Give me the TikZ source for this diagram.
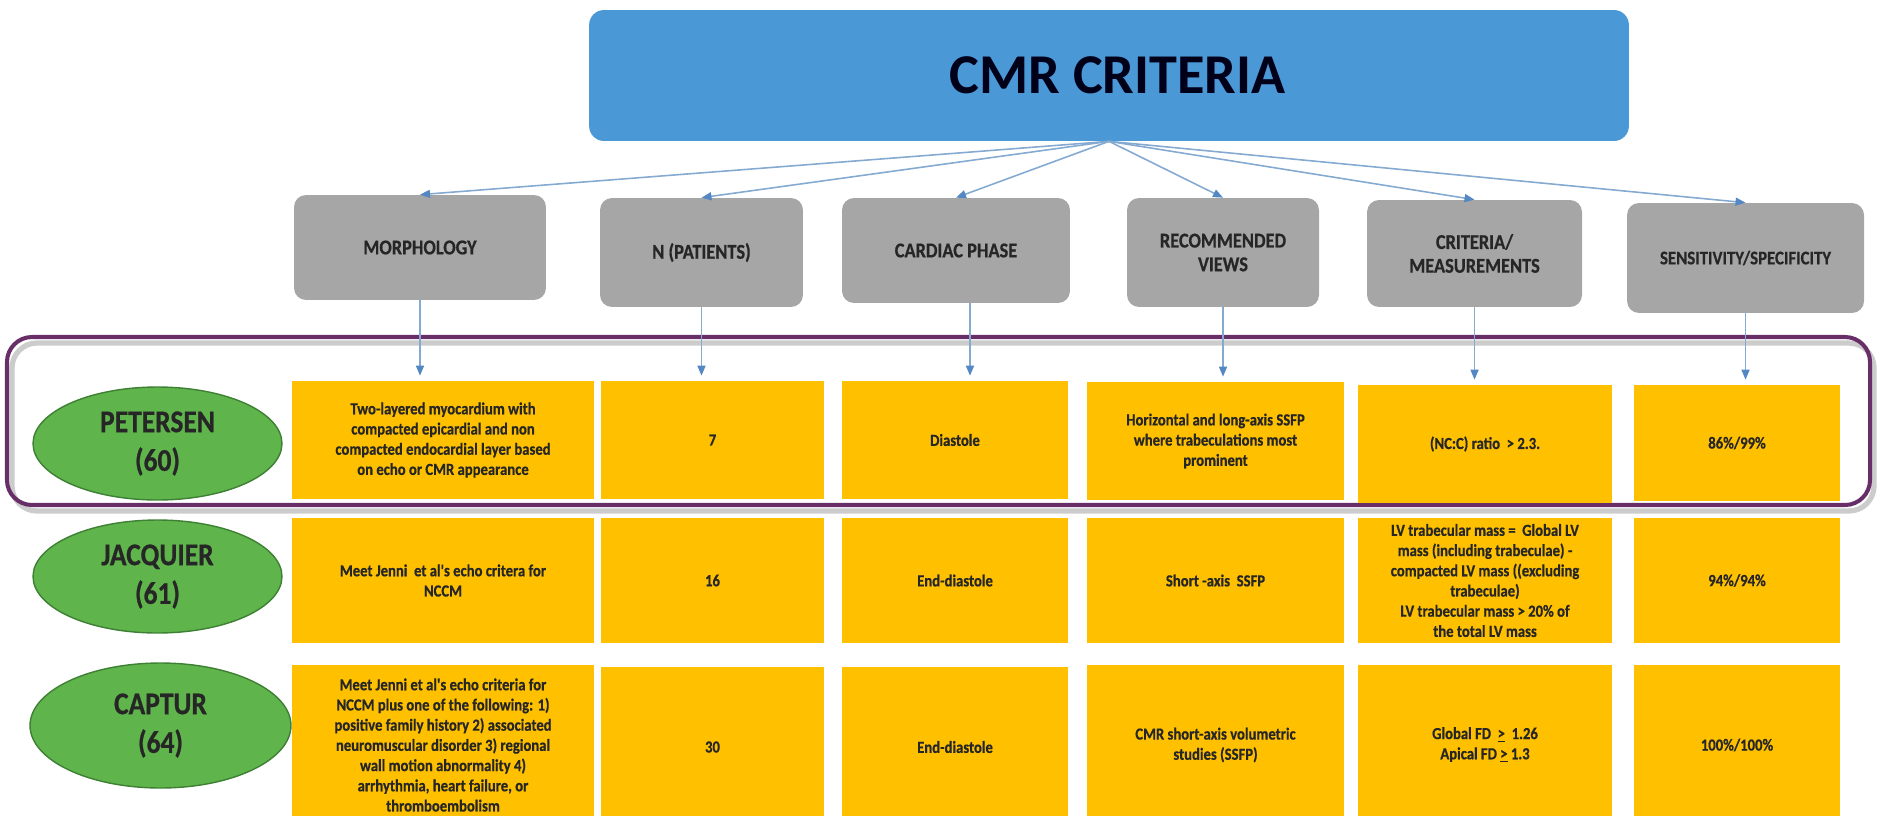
\documentclass[tikz,border=0pt]{standalone}
\usepackage{fontspec}
\setmainfont{Carlito}
\newfontfamily\narrowfont[FakeStretch=0.87,BoldFont={Carlito Bold},BoldFeatures={FakeBold=0.6}]{Carlito}
\usetikzlibrary{arrows.meta,shapes.geometric}
\definecolor{titleblue}{RGB}{74,152,214}
\definecolor{hdrgray}{RGB}{166,166,166}
\definecolor{cellyellow}{RGB}{255,192,0}
\definecolor{ovalgreen}{RGB}{96,180,76}
\definecolor{ovaledge}{RGB}{62,128,52}
\definecolor{framepurple}{RGB}{104,46,104}
\definecolor{arrowblue}{RGB}{132,170,210}
\definecolor{tipblue}{RGB}{84,136,196}

\begin{document}
\begin{tikzpicture}[x=0.02cm,y=-0.02cm,
  hdr/.style={fill=hdrgray,rounded corners=0.24cm,align=center,
    font=\narrowfont\fontsize{12}{13.5}\selectfont\bfseries,text=black!85,inner sep=1pt},
  cell/.style={fill=cellyellow,align=center,
    font=\narrowfont\fontsize{9.6}{11.5}\selectfont\bfseries,text=black!85,inner sep=1pt},
  oval/.style={ellipse,fill=ovalgreen,draw=ovaledge,line width=0.8pt,align=center,
    font=\narrowfont\fontsize{18}{22}\selectfont\bfseries,text=black!85,inner sep=0pt},
  fan/.style={draw=arrowblue,line width=0.9pt,
    -{Triangle[length=0.2cm,width=0.16cm,color=tipblue]}},
]
  \useasboundingbox (0,0) rectangle (1878,815);

  % title
  \node[fill=titleblue,rounded corners=0.3cm,minimum width=20.8cm,minimum height=2.62cm,
    font=\fontsize{32}{36}\selectfont\bfseries,text=black!90!blue] (title) at (1109,75.5) {\hspace{0.35cm}CMR CRITERIA};

  % headers
  \node[hdr,minimum width=5.04cm,minimum height=2.1cm] (hMorph) at (420,247.5) {MORPHOLOGY};
  \node[hdr,minimum width=4.06cm,minimum height=2.18cm] (hPat) at (701.5,252.5) {N (PATIENTS)};
  \node[hdr,minimum width=4.56cm,minimum height=2.1cm] (hCard) at (956,250.5) {CARDIAC PHASE};
  \node[hdr,minimum width=3.84cm,minimum height=2.18cm] (hView) at (1223,252.5) {RECOMMENDED\\VIEWS};
  \node[hdr,minimum width=4.3cm,minimum height=2.14cm] (hCrit) at (1474.5,253.5) {CRITERIA/\\MEASUREMENTS};
  \node[hdr,minimum width=4.74cm,minimum height=2.2cm,font=\narrowfont\fontsize{11}{13}\selectfont\bfseries] (hSens) at (1745.5,258) {SENSITIVITY/SPECIFICITY};

  \draw[fan] (title.south) -- (hMorph.north);
  \draw[fan] (title.south) -- (hPat.north);
  \draw[fan] (title.south) -- (hCard.north);
  \draw[fan] (title.south) -- (hView.north);
  \draw[fan] (title.south) -- (hCrit.north);
  \draw[fan] (title.south) -- (hSens.north);

  % highlighted row
  \draw[black!20,line width=3pt,rounded corners=0.5cm] (12,343) rectangle (1874,511);
  \draw[framepurple,line width=2.3pt,rounded corners=0.5cm] (7,337) rectangle (1870,505);

  % row 1
  \node[cell,minimum width=6.04cm,minimum height=2.36cm] (m1) at (443,440) {Two-layered myocardium with\\compacted epicardial and non\\compacted endocardial layer based\\on echo or CMR appearance};
  \node[cell,minimum width=4.46cm,minimum height=2.36cm] (n1) at (712.5,440) {7};
  \node[cell,minimum width=4.52cm,minimum height=2.36cm] (c1) at (955,440) {Diastole};
  \node[cell,minimum width=5.14cm,minimum height=2.36cm] (v1) at (1215.5,441) {Horizontal and long-axis SSFP\\where trabeculations most\\prominent};
  \node[cell,minimum width=5.08cm,minimum height=2.36cm] (k1) at (1485,444) {(NC:C) ratio \ > 2.3.};
  \node[cell,minimum width=4.12cm,minimum height=2.32cm] (s1) at (1737,443) {86\%/99\%};

  \draw[fan,shorten >=0.1cm] (hMorph.south) -- (hMorph.south |- m1.north);
  \draw[fan,shorten >=0.1cm] (hPat.south) -- (hPat.south |- n1.north);
  \draw[fan,shorten >=0.1cm] ([xshift=0.28cm]hCard.south) -- ([xshift=0.28cm]hCard.south |- c1.north);
  \draw[fan,shorten >=0.1cm] (hView.south) -- (hView.south |- v1.north);
  \draw[fan,shorten >=0.1cm] (hCrit.south) -- (hCrit.south |- k1.north);
  \draw[fan,shorten >=0.1cm] (hSens.south) -- (hSens.south |- s1.north);

  % row 2
  \node[cell,minimum width=6.04cm,minimum height=2.5cm] (m2) at (443,580.5) {Meet Jenni \ et al's echo critera for\\NCCM};
  \node[cell,minimum width=4.46cm,minimum height=2.5cm] (n2) at (712.5,580.5) {16};
  \node[cell,minimum width=4.52cm,minimum height=2.5cm] (c2) at (955,580.5) {End-diastole};
  \node[cell,minimum width=5.14cm,minimum height=2.5cm] (v2) at (1215.5,580.5) {Short -axis \ SSFP};
  \node[cell,minimum width=5.08cm,minimum height=2.5cm] (k2) at (1485,580.5) {LV trabecular mass = \ Global LV\\mass (including trabeculae) -\\compacted LV mass ((excluding\\trabeculae)\\LV trabecular mass > 20\% of\\the total LV mass};
  \node[cell,minimum width=4.12cm,minimum height=2.5cm] (s2) at (1737,580.5) {94\%/94\%};

  % row 3
  \node[cell,minimum width=6.04cm,minimum height=3.2cm] (m3) at (443,745) {Meet Jenni et al's echo criteria for\\NCCM plus one of the following: 1)\\positive family history 2) associated\\neuromuscular disorder 3) regional\\wall motion abnormality 4)\\arrhythmia, heart failure, or\\thromboembolism};
  \node[cell,minimum width=4.46cm,minimum height=3.2cm] (n3) at (712.5,747) {30};
  \node[cell,minimum width=4.52cm,minimum height=3.2cm] (c3) at (955,747) {End-diastole};
  \node[cell,minimum width=5.14cm,minimum height=3.2cm] (v3) at (1215.5,745) {CMR short-axis volumetric\\studies (SSFP)};
  \node[cell,minimum width=5.08cm,minimum height=3.2cm] (k3) at (1485,745) {Global FD \ \underline{>} \ 1.26\\Apical FD \underline{>} 1.3};
  \node[cell,minimum width=4.12cm,minimum height=3.2cm] (s3) at (1737,745) {100\%/100\%};

  % studies
  \node[oval,minimum width=4.98cm,minimum height=2.26cm] (pet) at (157.5,443.5) {PETERSEN\\(60)};
  \node[oval,minimum width=4.98cm,minimum height=2.26cm] (jac) at (157.5,576.5) {JACQUIER\\(61)};
  \node[oval,minimum width=5.22cm,minimum height=2.5cm] (cap) at (160.5,725.5) {CAPTUR\\(64)};
\end{tikzpicture}
\end{document}
